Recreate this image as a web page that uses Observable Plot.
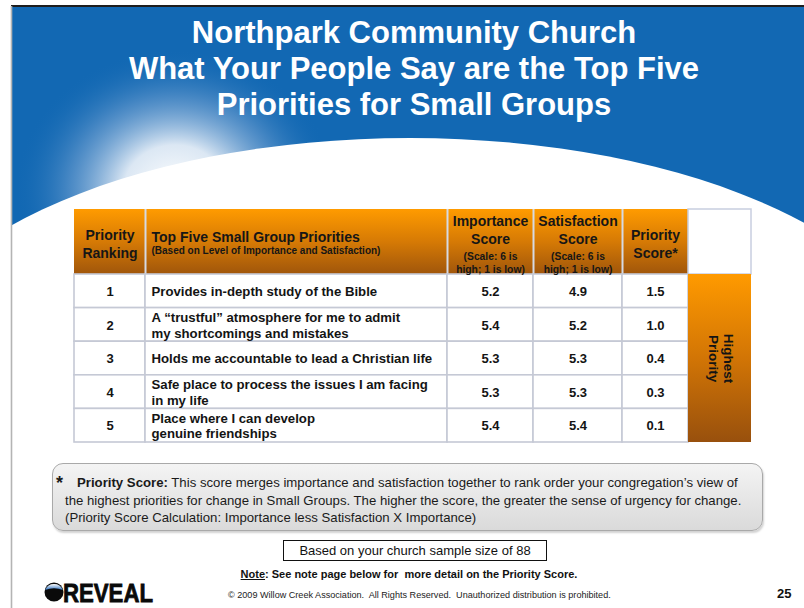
<!DOCTYPE html>
<html>
<head>
<meta charset="utf-8">
<script src="https://cdn.jsdelivr.net/npm/d3@7"></script>
<script src="https://cdn.jsdelivr.net/npm/@observablehq/plot@0.6"></script>
<style>
  html, body { margin: 0; padding: 0; background: #fff; }
  #slide { position: relative; width: 804px; height: 608px; overflow: hidden; background: #fff;
           font-family: "Liberation Sans", Arial, Helvetica, sans-serif; }
  #bg { position: absolute; left: 0; top: 0; }
  #title { position: absolute; left: 24px; top: 15px; width: 780px; text-align: center; color: #fff;
           font-weight: bold; font-size: 31px; line-height: 36px; }
  #table { position: absolute; left: 72px; top: 207px; }
  #note { position: absolute; left: 52px; top: 463px; width: 711px; height: 68px; box-sizing: border-box;
          border: 1px solid #a9a9a9; border-radius: 11px;
          background: linear-gradient(#f4f4f4, #dadada); box-shadow: 1px 2px 2px rgba(0,0,0,0.18);
          padding: 10px 0 0 12px; font-size: 13.2px; line-height: 17.5px; color: #1a1a1a; white-space: nowrap; }
  #note .star { font-weight: bold; font-size: 18px; position: absolute; left: 3px; top: 11px; }
  #note .first { padding-left: 12px; }
  #sample { position: absolute; left: 283px; top: 540px; width: 264px; height: 21px; box-sizing: border-box;
            border: 1.3px solid #111; text-align: center; font-size: 13px; line-height: 19px; color: #111; }
  #notepage { position: absolute; left: 0; top: 568px; width: 818px; text-align: center; font-weight: bold;
              font-size: 11px; color: #111; }
  #copy { position: absolute; left: 228px; top: 590px; font-size: 9.1px; color: #222; white-space: nowrap; }
  #page { position: absolute; left: 777px; top: 586px; font-weight: bold; font-size: 13px; color: #111; }
</style>
</head>
<body>
<div id="slide">
  <svg id="bg" width="804" height="608">
    <defs>
      <radialGradient id="glow" gradientUnits="userSpaceOnUse" cx="175" cy="190" r="160"
                      gradientTransform="translate(175 190) scale(1 0.88) translate(-175 -190)">
        <stop offset="0" stop-color="#ffffff" stop-opacity="1"/>
        <stop offset="0.32" stop-color="#e6eef7" stop-opacity="0.95"/>
        <stop offset="0.66" stop-color="#7fa9d6" stop-opacity="0.5"/>
        <stop offset="1" stop-color="#1268b3" stop-opacity="0"/>
      </radialGradient>
      <linearGradient id="hdrGrad" x1="0" y1="0" x2="0" y2="1">
        <stop offset="0" stop-color="#ff9b00"/>
        <stop offset="0.5" stop-color="#d67a05"/>
        <stop offset="1" stop-color="#a0560b"/>
      </linearGradient>
      <linearGradient id="barGrad" x1="0" y1="0" x2="0" y2="1">
        <stop offset="0" stop-color="#ff9a00"/>
        <stop offset="0.5" stop-color="#d27505"/>
        <stop offset="1" stop-color="#98500d"/>
      </linearGradient>
      <linearGradient id="capGrad" x1="0" y1="0" x2="0" y2="1">
        <stop offset="0" stop-color="#ffffff"/>
        <stop offset="1" stop-color="#2a6fc0"/>
      </linearGradient>
    </defs>
    <rect x="12" y="7" width="792" height="235" fill="#1268b3"/>
    <rect x="12" y="7" width="792" height="235" fill="url(#glow)"/>
    <ellipse cx="410" cy="382" rx="520" ry="244" fill="#ffffff"/>
    <line x1="11" y1="6" x2="804" y2="6" stroke="#1e1e1e" stroke-width="2"/>
    <line x1="11.5" y1="6" x2="11.5" y2="608" stroke="#b4b4b4" stroke-width="1.6"/>
    <g id="logo">
      <circle cx="54" cy="592" r="9.5" fill="#0a0a0a"/>
      <path d="M45.2 590 A9.5 9.5 0 0 1 62.8 590 Q54 586.5 45.2 590 Z" fill="url(#capGrad)"/>
      <text x="63" y="602" font-family="Liberation Sans, Arial, sans-serif" font-weight="bold" font-size="26.5"
            fill="#0a0a0a" textLength="90" lengthAdjust="spacingAndGlyphs" stroke="#0a0a0a" stroke-width="0.8">REVEAL</text>
    </g>
  </svg>

  <div id="title"></div>
  <div id="table"></div>
  <div id="note"></div>
  <div id="sample"></div>
  <div id="notepage"></div>
  <div id="copy"></div>
  <div id="page"></div>
</div>

<script>
// ---------- text content ----------
const titleLines = [
  "Northpark Community Church",
  "What Your People Say are the Top Five",
  "Priorities for Small Groups"
];

// ---------- table data ----------
const ranks = ["1", "2", "3", "4", "5"];
const priorities = [
  "Provides in-depth study of the Bible",
  "A \u201ctrustful\u201d atmosphere for me to admit\nmy shortcomings and mistakes",
  "Holds me accountable to lead a Christian life",
  "Safe place to process the issues I am facing\nin my life",
  "Place where I can develop\ngenuine friendships"
];
const importanceScores = [5.2, 5.4, 5.3, 5.3, 5.4];
const satisfactionScores = [4.9, 5.2, 5.3, 5.3, 5.4];
const priorityScores = [1.5, 1.0, 0.4, 0.3, 0.1];

const headerMain = ["Priority\nRanking", "Top Five Small Group Priorities", "Importance\nScore", "Satisfaction\nScore", "Priority\nScore*"];
const headerSub = ["", "(Based on Level of Importance and Satisfaction)", "(Scale: 6 is\nhigh; 1 is low)", "(Scale: 6 is\nhigh; 1 is low)", ""];
const sideLabel = "Highest\nPriority";

const noteLines = [
  "This score merges importance and satisfaction together to rank order your congregation\u2019s view of",
  "the highest priorities for change in Small Groups. The higher the score, the greater the sense of urgency for change.",
  "(Priority Score Calculation: Importance less Satisfaction X Importance)"
];
const sampleText = "Based on your church sample size of 88";
const notePageText = ["Note", ": See note page below for \u00a0more detail on the Priority Score."];
const copyText = "\u00a9 2009 Willow Creek Association.\u00a0 All Rights Reserved.\u00a0 Unauthorized distribution is prohibited.";
const pageNumber = "25";

// ---------- layout (not data) ----------
const colWidths = [71, 302, 86, 89, 66, 63];
const headerH = 65, rowH = 33.6;
const edges = colWidths.reduce((a, w) => (a.push(a[a.length - 1] + w), a), [0]);
const tableW = edges[edges.length - 1];
const tableH = headerH + ranks.length * rowH;
const rowTop = i => headerH + i * rowH;
const rowMid = i => headerH + (i + 0.5) * rowH;
const colMid = j => (edges[j] + edges[j + 1]) / 2;

// ---------- HTML text ----------
document.getElementById("title").innerHTML = titleLines.join("<br>");
document.getElementById("note").innerHTML =
  `<span class="star">*</span><span class="first"><b>Priority Score:</b> ${noteLines[0]}</span><br>${noteLines[1]}<br>${noteLines[2]}`;
document.getElementById("sample").textContent = sampleText;
document.getElementById("notepage").innerHTML = `<u>${notePageText[0]}</u>${notePageText[1]}`;
document.getElementById("copy").textContent = copyText;
document.getElementById("page").textContent = pageNumber;

// ---------- table via Plot ----------
const rows = ranks.map((r, i) => ({
  i, rank: r, text: priorities[i],
  imp: importanceScores[i].toFixed(1),
  sat: satisfactionScores[i].toFixed(1),
  ps: priorityScores[i].toFixed(1)
}));
const bodyCells = rows.flatMap(d => d3.range(5).map(j => ({i: d.i, j})));
const headerCols = d3.range(5);

const hdrMainPos = [
  {x: colMid(0), y: 34, anchor: "middle"},
  {x: edges[1] + 6, y: 27, anchor: "start"},
  {x: colMid(2), y: 20, anchor: "middle"},
  {x: colMid(3), y: 20, anchor: "middle"},
  {x: colMid(4), y: 34, anchor: "middle"}
];
const hdrSubPos = [
  null,
  {x: edges[1] + 6, y: 41.5, anchor: "start"},
  {x: colMid(2), y: 52.7, anchor: "middle"},
  {x: colMid(3), y: 52.7, anchor: "middle"},
  null
];

const border = "#c5c9d5";
const ink = "#141414";

const chart = Plot.plot({
  width: tableW + 4,
  height: tableH + 4,
  marginLeft: 2, marginRight: 2, marginTop: 2, marginBottom: 2,
  x: {type: "linear", domain: [0, tableW], axis: null},
  y: {type: "linear", domain: [0, tableH], reverse: true, axis: null},
  style: {background: "transparent", fontFamily: "Liberation Sans, Arial, sans-serif", overflow: "visible"},
  marks: [
    // header cells
    Plot.rect(headerCols, {x1: j => edges[j], x2: j => edges[j + 1], y1: 0, y2: headerH, fill: "url(#hdrGrad)"}),
    // empty header corner cell
    Plot.rect([5], {x1: j => edges[j], x2: j => edges[j + 1], y1: 0, y2: headerH, fill: "#fff", stroke: "#c8cee0", strokeWidth: 1.5}),
    // header separators
    Plot.ruleX(headerCols.slice(1), {x: j => edges[j], y1: 0, y2: headerH, stroke: "#d6dae3", strokeWidth: 2}),
    // body cells
    Plot.rect(bodyCells, {x1: d => edges[d.j], x2: d => edges[d.j + 1], y1: d => rowTop(d.i), y2: d => rowTop(d.i) + rowH,
      fill: "#fff", stroke: border, strokeWidth: 1.6}),
    // side bar
    Plot.rect([0], {x1: edges[5], x2: edges[6], y1: headerH, y2: tableH, fill: "url(#barGrad)"}),
    // header main text
    Plot.text(headerCols, {x: j => hdrMainPos[j].x, y: j => hdrMainPos[j].y, text: j => headerMain[j],
      textAnchor: "start", fontWeight: "bold", fontSize: 14, lineHeight: 1.3, fill: "#161616",
      filter: j => hdrMainPos[j].anchor === "start"}),
    Plot.text(headerCols, {x: j => hdrMainPos[j].x, y: j => hdrMainPos[j].y, text: j => headerMain[j],
      textAnchor: "middle", fontWeight: "bold", fontSize: 14, lineHeight: 1.3, fill: "#161616",
      filter: j => hdrMainPos[j].anchor === "middle"}),
    // header sub text
    Plot.text([1], {x: j => hdrSubPos[j].x, y: j => hdrSubPos[j].y, text: j => headerSub[j],
      textAnchor: "start", fontWeight: "bold", fontSize: 10, fill: "#161616"}),
    Plot.text([2, 3], {x: j => hdrSubPos[j].x, y: j => hdrSubPos[j].y, text: j => headerSub[j],
      textAnchor: "middle", fontWeight: "bold", fontSize: 10.3, lineHeight: 1.3, fill: "#161616"}),
    // body text
    Plot.text(rows, {x: colMid(0), y: d => rowMid(d.i) + 0.5, text: "rank", fontWeight: "bold", fontSize: 13, fill: ink}),
    Plot.text(rows, {x: edges[1] + 6, y: d => rowMid(d.i), text: "text", textAnchor: "start",
      fontWeight: "bold", fontSize: 13.2, lineHeight: 1.18, fill: ink}),
    Plot.text(rows, {x: colMid(2), y: d => rowMid(d.i) + 0.5, text: "imp", fontWeight: "bold", fontSize: 13, fill: ink}),
    Plot.text(rows, {x: colMid(3), y: d => rowMid(d.i) + 0.5, text: "sat", fontWeight: "bold", fontSize: 13, fill: ink}),
    Plot.text(rows, {x: colMid(4), y: d => rowMid(d.i) + 0.5, text: "ps", fontWeight: "bold", fontSize: 13, fill: ink}),
    // rotated side label
    Plot.text([sideLabel], {x: colMid(5) + 1, y: (headerH + tableH) / 2, text: d => d, rotate: 90,
      fontWeight: "bold", fontSize: 13.5, lineHeight: 1.1, fill: "#141414"})
  ]
});
document.getElementById("table").appendChild(chart);
</script>
</body>
</html>
